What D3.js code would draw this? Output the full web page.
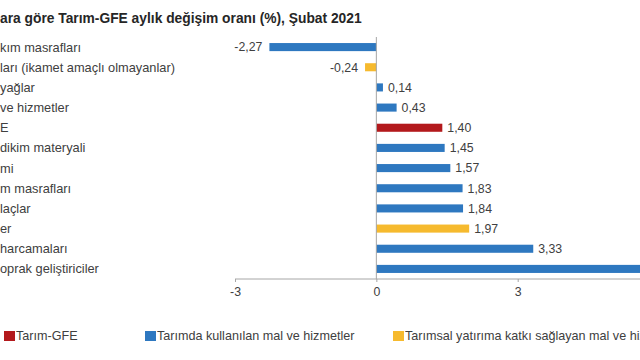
<!DOCTYPE html>
<html>
<head>
<meta charset="utf-8">
<script src="https://cdn.jsdelivr.net/npm/d3@7"></script>
<style>
  html, body { margin: 0; padding: 0; background: #fff; }
  svg { display: block; }
  text { font-family: "Liberation Sans", Arial, sans-serif; }
</style>
</head>
<body>
<svg id="chart" width="640" height="360"></svg>
<script>
// ---- data (as visible in the cropped picture) ----
const titleText = "ara göre Tarım-GFE aylık değişim oranı (%), Şubat 2021";
const categories = [
  "kım masrafları",
  "ları (ikamet amaçlı olmayanlar)",
  "yağlar",
  "ve hizmetler",
  "E",
  "dikim materyali",
  "mi",
  "m masrafları",
  "laçlar",
  "er",
  "harcamaları",
  "oprak geliştiriciler"
];
const values = [-2.27, -0.24, 0.14, 0.43, 1.40, 1.45, 1.57, 1.83, 1.84, 1.97, 3.33, 6.05];
// group: 0 = Tarım-GFE, 1 = Tarımda kullanılan mal ve hizmetler, 2 = Tarımsal yatırıma katkı sağlayan mal ve hizmetler
const groups = [1, 2, 1, 1, 0, 1, 1, 1, 1, 2, 1, 1];
const seriesNames = ["Tarım-GFE", "Tarımda kullanılan mal ve hizmetler", "Tarımsal yatırıma katkı sağlayan mal ve hizmetler"];
const xTicks = [-3, 0, 3];

// ---- styles ----
const colors = ["#B3191C", "#2E78C0", "#F6BA2E"];
const textColor = "#404040";

const svg = d3.select("#chart");
const data = categories.map((c, i) => ({ c, v: values[i], g: groups[i] }));

const x = d3.scaleLinear().domain([-3, 3]).range([235, 517.7]);
const y = d3.scaleBand().domain(categories).range([37, 279]).paddingInner(0.6).paddingOuter(0.3);

// title
svg.append("text")
  .attr("x", 0).attr("y", 23)
  .attr("font-size", 13.8).attr("font-weight", "bold")
  .attr("fill", "#262626")
  .text(titleText);

// category labels
svg.append("g").selectAll("text").data(data).join("text")
  .attr("x", 0)
  .attr("y", d => y(d.c) + y.bandwidth() / 2)
  .attr("dy", "0.35em")
  .attr("font-size", 12.8)
  .attr("fill", textColor)
  .text(d => d.c);

// bars
svg.append("g").selectAll("rect").data(data).join("rect")
  .attr("x", d => x(Math.min(0, d.v)))
  .attr("y", d => y(d.c))
  .attr("width", d => Math.abs(x(d.v) - x(0)))
  .attr("height", y.bandwidth())
  .attr("fill", d => colors[d.g]);

// value labels
const fmt = v => d3.format(".2f")(v).replace(".", ",").replace("−", "-");
svg.append("g").selectAll("text").data(data).join("text")
  .attr("x", d => d.v < 0 ? x(d.v) - 7 : x(d.v) + 5)
  .attr("y", d => y(d.c) + y.bandwidth() / 2)
  .attr("dy", "0.35em")
  .attr("text-anchor", d => d.v < 0 ? "end" : "start")
  .attr("font-size", 12.3)
  .attr("fill", textColor)
  .text(d => fmt(d.v));

// zero line (vertical)
svg.append("line")
  .attr("x1", x(0)).attr("x2", x(0))
  .attr("y1", 37).attr("y2", 279)
  .attr("stroke", "#A6A6A6").attr("stroke-width", 1);

// x axis
const axis = d3.axisBottom(x).tickValues(xTicks).tickSize(3).tickFormat(d3.format("d"));
const gx = svg.append("g").attr("transform", "translate(0,279)").call(axis);
gx.select(".domain").attr("stroke", "#A6A6A6").attr("d", `M${x(-3)},0H700`);
gx.selectAll(".tick line").attr("stroke", "#A6A6A6");
gx.selectAll(".tick text")
  .attr("font-size", 12.3)
  .attr("font-family", "Liberation Sans, Arial, sans-serif")
  .attr("fill", textColor)
  .attr("y", 8)
  .text(d => d3.format("d")(d).replace("−", "-"));

// legend
const legendX = [4, 145, 393];
const lg = svg.append("g").selectAll("g").data(seriesNames).join("g")
  .attr("transform", (d, i) => `translate(${legendX[i]},331)`);
lg.append("rect").attr("x", 0).attr("y", 0).attr("width", 11).attr("height", 10)
  .attr("fill", (d, i) => colors[i]);
lg.append("text").attr("x", 12).attr("y", 5).attr("dy", "0.35em")
  .attr("font-size", 12.6).attr("fill", textColor)
  .text(d => d);
</script>
</body>
</html>
